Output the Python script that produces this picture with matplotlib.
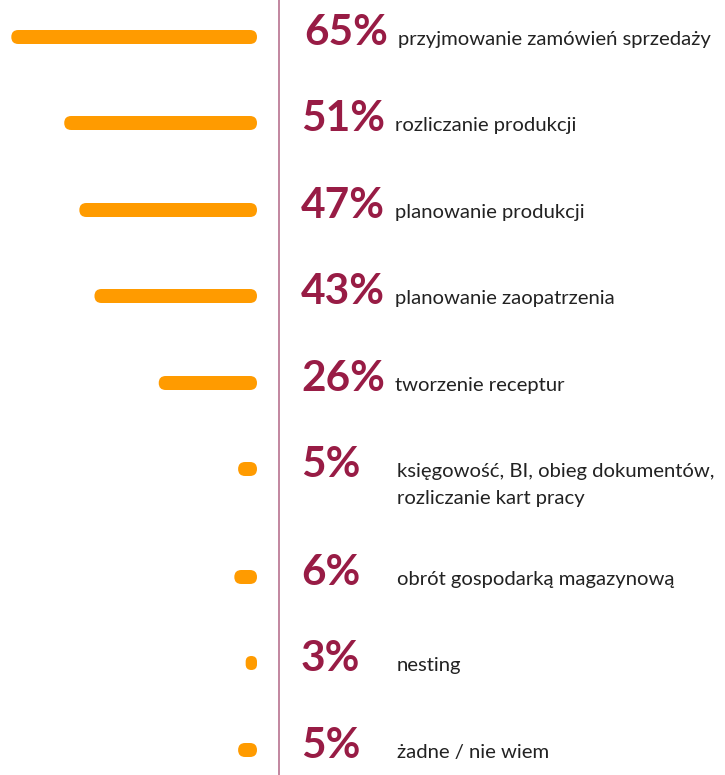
import matplotlib
matplotlib.use("Agg")
import matplotlib.pyplot as plt
from matplotlib.patches import FancyBboxPatch

values = [65, 51, 47, 43, 26, 5, 6, 3, 5]
labels = ["przyjmowanie zamówień sprzedaży", "rozliczanie produkcji", "planowanie produkcji",
          "planowanie zaopatrzenia", "tworzenie receptur",
          "księgowość, BI, obieg dokumentów,\nrozliczanie kart pracy",
          "obrót gospodarką magazynową", "nesting", "żadne / nie wiem"]
pct_labels = [f"{v}%" for v in values]

# layout (pixels)
W, H = 725, 775
row_y = [37, 123, 210, 296, 383, 469, 577, 663, 750]
zero_px = 257
px_per_pct = 3.78
bar_h = 14
ORANGE = "#FF9B00"
MAROON = "#981C45"
LINE = "#B8728F"
TEXT = "#222222"

fig = plt.figure(figsize=(W / 100, H / 100), dpi=100)
fig.patch.set_facecolor("white")

# bars axes: x in percent, 0 at zero_px, growing leftward
axb = fig.add_axes([0, 0, 1, 1])
axb.set_xlim(zero_px / px_per_pct, (zero_px - W) / px_per_pct)
axb.set_ylim(H, 0)
axb.axis("off")
r_full = (bar_h / 2) / px_per_pct
for v, y in zip(values, row_y):
    r = min(r_full, v / 2)
    p = FancyBboxPatch((0, y - bar_h / 2), v, bar_h,
                       boxstyle=f"round,pad=0,rounding_size={r}",
                       mutation_aspect=px_per_pct, facecolor=ORANGE,
                       edgecolor="none")
    axb.add_patch(p)

# text axes in pixels
ax = fig.add_axes([0, 0, 1, 1], facecolor="none")
ax.set_xlim(0, W)
ax.set_ylim(H, 0)
ax.axis("off")
ax.plot([279, 279], [0, H], color=LINE, lw=1.2)

fig.canvas.draw()
renderer = fig.canvas.get_renderer()
for i, (pl, lab, y) in enumerate(zip(pct_labels, labels, row_y)):
    base = y + 8
    x0 = 304 if i == 0 else 301
    t = ax.text(x0, base, pl, fontsize=30.5, fontweight="bold", family="Lato",
                color=MAROON, ha="left", va="baseline")
    if len(pl) >= 3:
        bb = t.get_window_extent(renderer)
        lx = ax.transData.inverted().transform((bb.x1 + 10, 0))[0]
    else:
        lx = 397
    for k, line in enumerate(lab.split("\n")):
        ax.text(lx, base + k * 27, line, fontsize=14.6, family="Lato", color=TEXT,
                ha="left", va="baseline")

fig.savefig("out.png", dpi=100)
